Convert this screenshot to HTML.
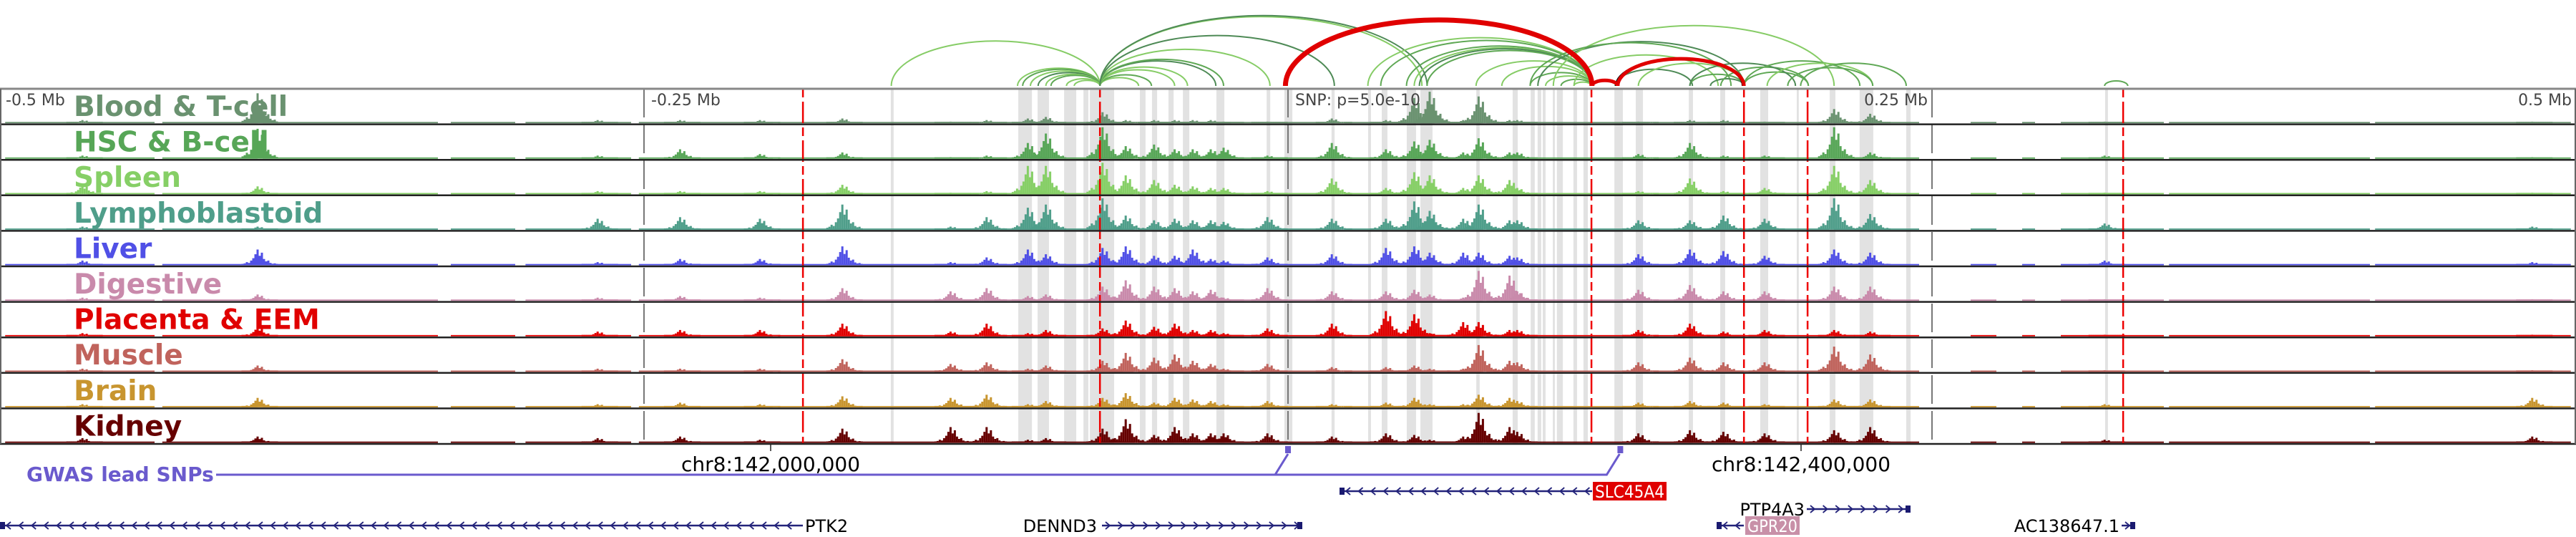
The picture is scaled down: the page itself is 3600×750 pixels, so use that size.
<!DOCTYPE html>
<html><head><meta charset="utf-8"><style>
html,body{margin:0;padding:0;background:#fff;}
svg{display:block;font-family:"DejaVu Sans","Liberation Sans",sans-serif;}
</style></head><body>
<svg id="fig" width="3600" height="750" viewBox="0 0 3600 750" xmlns="http://www.w3.org/2000/svg">
<g id="bands"></g>
<g id="arcs"></g>
<g id="signals"></g>
<g id="vlines"></g>
<g id="frame"></g>
<g id="labels"></g>
<g id="bottom"></g>
</svg>
<script>
// ---- data (genomic offsets in kb relative to lead SNP) ----
const trackNames = ['Blood & T-cell','HSC & B-cell','Spleen','Lymphoblastoid','Liver','Digestive','Placenta & EEM','Muscle','Brain','Kidney'];
const trackColors = ['#6a9270','#57a657','#86cf66','#4f9e8a','#5050e6','#c98aab','#e00000','#c0635c','#c8952f','#660000'];
const peakKb = [-468,-400,-268,-236,-205,-173,-131,-117,-101,-94,-72,-63,-52,-44,-37,-30,-25,-8,17,38,49,55,68,74,86,89,136,156,169,185,212,226,317,483];
const bloodH = [.1,.95,.1,.1,.1,.15,.05,.1,.15,.2,.35,.1,.1,.1,.1,.1,.05,.05,.15,.1,.8,1.0,.1,.85,.1,.1,.05,.1,.1,.05,.45,.3,.05,.05];
const hscH = [.1,.95,.1,.3,.15,.2,.05,.1,.5,.8,1.0,.4,.45,.3,.3,.3,.35,.1,.5,.3,.55,.6,.2,.65,.2,.2,.15,.5,.1,.1,1.0,.2,.1,.05];
const spleenH = [.3,.25,.1,.1,.1,.3,.05,.1,.9,.9,1.0,.6,.45,.3,.25,.2,.2,.1,.5,.2,.7,.6,.2,.6,.45,.2,.1,.5,.1,.2,.9,.45,.05,.05];
const lymphoH = [.1,.1,.35,.4,.35,.8,.1,.4,.7,.8,1.0,.45,.3,.35,.3,.3,.25,.4,.35,.35,.9,.6,.35,.8,.3,.3,.3,.3,.45,.35,1.0,.5,.2,.1];
const liverH = [.15,.5,.1,.2,.2,.6,.1,.25,.5,.35,.55,.6,.3,.3,.5,.2,.15,.25,.35,.55,.6,.4,.4,.4,.3,.25,.35,.5,.45,.3,.5,.4,.15,.1];
const digestiveH = [.1,.2,.1,.15,.1,.4,.3,.4,.15,.2,.45,.65,.45,.4,.3,.35,.1,.4,.3,.3,.35,.2,.1,.95,.8,.3,.35,.5,.3,.3,.45,.45,.05,.05];
const placentaH = [.1,.3,.15,.2,.2,.4,.15,.4,.1,.2,.25,.5,.3,.4,.2,.2,.1,.25,.4,.8,.7,.1,.45,.45,.2,.2,.2,.4,.15,.2,.2,.15,.05,.05];
const muscleH = [.1,.2,.1,.1,.1,.4,.25,.3,.1,.2,.35,.6,.45,.55,.35,.25,.1,.25,.15,.15,.2,.1,.1,.85,.35,.3,.3,.45,.3,.3,.8,.55,.05,.05];
const brainH = [.1,.3,.1,.15,.1,.35,.3,.4,.1,.2,.3,.45,.15,.3,.25,.2,.1,.2,.1,.15,.3,.1,.1,.4,.3,.2,.15,.2,.15,.1,.25,.25,.1,.3];
const kidneyH = [.15,.2,.15,.2,.1,.45,.5,.5,.1,.15,.45,.75,.25,.5,.3,.3,.3,.3,.2,.3,.25,.1,.2,.95,.5,.35,.3,.4,.35,.3,.4,.5,.1,.2];
const coverageKb = [[-498,-470],[-466,-440],[-437,-400],[-398,-330],[-325,-300],[-296,-255],[-252,-200],[-198,-120],[-118,-60],[-58,20],[22,75],[77,140],[142,210],[212,245],[265,275],[285,290],[300,340],[342,420],[422,498]];
const bandsKb = [[-154.2,-153.1],[-104.7,-99.4],[-97.2,-92.8],[-86.9,-82.2],[-79.4,-77.5],[-76.9,-67.5],[-57.5,-55.3],[-52.8,-50.8],[-46.4,-44.4],[-40.8,-38.3],[-27.8,-24.7],[-8.3,-6.9],[-1.4,1.7],[16.9,18.1],[31.1,32.2],[36.4,38.6],[46.1,49.7],[51.4,56.1],[73.1,74.4],[87.2,89.2],[94.2,95.8],[96.9,98.3],[98.9,100],[102.8,103.6],[104.4,106.7],[110.8,112.2],[114.7,116.4],[126.7,130],[135,137.8],[155.6,157.2],[167.8,169.7],[183.3,186.4],[197.5,198.3],[210.3,212.5],[221.9,227.2],[240,241.7],[317.2,318.3]];
const redLinesKb = [-188.3,-73,117.8,177,201.7,324.2];
const axisKb = [-250,0,250];
const greenArcStart = [-154,-105,-103,-100,-97,-94,-92,-86,-83,-73,-73,-73,-73,-73,-73,-73,-73,-73,-73,31,36,46,49,51,54,73,83,94,100,106,111,97,103,94,127,136,111,156,164,168,177,156,177,186,194,199,317];
const greenArcEnd   = [-73,-73,-73,-73,-73,-73,-73,-73,-73,-58,-53,-44,-39,-28,-25,-7,18,52,54,118,118,118,118,118,118,118,118,118,118,118,118,177,212,172,157,177,167,177,177,202,202,197,222,227,227,240,326];
const greenArcShade = [0,0,1,0,2,0,1,0,0,0,1,0,0,2,1,0,2,0,2,0,1,1,0,2,1,0,0,1,0,1,0,2,0,1,2,0,0,1,2,1,1,2,1,0,1,1,1];
const redArcStart = [-1,118,128];
const redArcEnd = [118,128,177];
const redArcWidth = [7,5,5];
const tickLabels = ['-0.5 Mb','-0.25 Mb','SNP: p=5.0e-10','0.25 Mb','0.5 Mb'];
const snpKb = [0,129];

const trackHeights = [bloodH,hscH,spleenH,lymphoH,liverH,digestiveH,placentaH,muscleH,brainH,kidneyH];
const NS='http://www.w3.org/2000/svg';
const X = kb => 1800 + kb*3.6;
const TOP=124, TH=49.6;
function mk(tag, attrs, parent){const e=document.createElementNS(NS,tag);for(const k in attrs)e.setAttribute(k,attrs[k]);parent.appendChild(e);return e;}

// bands
const gB=document.getElementById('bands');
bandsKb.forEach(b=>{
  const r=mk('rect',{x:X(b[0]),y:TOP,width:Math.max(2,X(b[1])-X(b[0])),height:TH*10,fill:'#e2e2e2'},gB);
  
  
});

// arcs
const gA=document.getElementById('arcs');
const shades=['#86cc66','#5fa855','#4e8a56'];
function arc(a,b,stroke,w,name){
  const x1=X(a),x2=X(b),rx=(x2-x1)/2,ry=0.43*rx;
  const p=mk('path',{d:`M${x1},120 A${rx},${ry} 0 0 1 ${x2},120`,fill:'none',stroke:stroke,'stroke-width':w},gA);
  
  
}
greenArcStart.forEach((s,i)=>arc(s,greenArcEnd[i],shades[greenArcShade[i]],2,'interaction-arc'));
arc(redArcStart[2]-0.8,redArcEnd[2]-0.6,'#111',2,'interaction-arc-black');
redArcStart.forEach((s,i)=>arc(s,redArcEnd[i],'#e00000',redArcWidth[i],'interaction-arc-red'));

// signals
const gS=document.getElementById('signals');
const profile=[.08,.12,.2,.15,.3,.45,.7,1,.6,.8,.4,.25,.3,.15,.1,.12,.06];
trackHeights.forEach((hs,t)=>{
  const g=mk('g',{fill:trackColors[t]},gS);
  
  
  const base=TOP+(t+1)*TH-1.5, H=44;
  coverageKb.forEach(c=>{
    const r=mk('rect',{x:X(c[0]),y:base-1.8,width:X(c[1])-X(c[0]),height:1.8},g);
    
    
  });
  peakKb.forEach((kb,i)=>{
    const cx=X(kb);
    profile.forEach((p,j)=>{
      const h=Math.max(2,hs[i]*H*p);
      const r=mk('rect',{x:cx+(j-7)*3-1.5,y:base-h,width:3,height:h},g);
      
      
    });
  });
});

// vertical lines
const gV=document.getElementById('vlines');
redLinesKb.forEach(kb=>{
  const l=mk('line',{x1:X(kb),x2:X(kb),y1:TOP,y2:TOP+TH*10,stroke:'#ee0000','stroke-width':2.5,'stroke-dasharray':'12,6,30,6'},gV);
  
  
});
axisKb.forEach(kb=>{
  const l=mk('line',{x1:X(kb),x2:X(kb),y1:TOP,y2:TOP+TH*10,stroke:'#777','stroke-width':2,'stroke-dasharray':'40,10'},gV);
  
  
});

// frames
const gF=document.getElementById('frame');
mk('line',{x1:0,x2:3600,y1:TOP,y2:TOP,stroke:'#888','stroke-width':3},gF);
for(let t=1;t<=10;t++){
  const l=mk('line',{x1:0,x2:3600,y1:TOP+t*TH,y2:TOP+t*TH,stroke:'#222','stroke-width':2.5},gF);
  
  
}
mk('line',{x1:1,x2:1,y1:TOP,y2:TOP+TH*10,stroke:'#666','stroke-width':2},gF);
mk('line',{x1:3599,x2:3599,y1:TOP,y2:TOP+TH*10,stroke:'#666','stroke-width':2},gF);

// labels
const gL=document.getElementById('labels');
trackNames.forEach((n,t)=>{
  const tx=mk('text',{x:103,y:TOP+t*TH+38,fill:trackColors[t],'font-size':39,'font-weight':'bold'},gL);
  tx.textContent=n;
  
  
});
const tickPos=[[8,'start'],[910,'start'],[1810,'start'],[2694,'end'],[3594,'end']];
tickLabels.forEach((s,i)=>{
  const tx=mk('text',{x:tickPos[i][0],y:147,fill:'#444','font-size':22,'text-anchor':tickPos[i][1]},gL);
  tx.textContent=s;
  
  
});

// bottom annotations
const gBt=document.getElementById('bottom');
[[1077,'chr8:142,000,000'],[2517,'chr8:142,400,000']].forEach(c=>{
  mk('line',{x1:c[0],x2:c[0],y1:620,y2:630,stroke:'#222','stroke-width':1.5},gBt);
  const tx=mk('text',{x:c[0],y:658,'text-anchor':'middle','font-size':28,fill:'#000'},gBt);
  tx.textContent=c[1];
  
  
});
const gw=mk('text',{x:37,y:672,'font-size':28,'font-weight':'bold',fill:'#6a5acd'},gBt);
gw.textContent='GWAS lead SNPs';


const sx1=X(snpKb[0]),sx2=X(snpKb[1])-1;
mk('polyline',{points:`302,663 ${sx1-18},663 ${sx1},634 `,fill:'none',stroke:'#6a5acd','stroke-width':3},gBt);
mk('polyline',{points:`${sx1-18},663 ${sx2-18},663 ${sx2},634`,fill:'none',stroke:'#6a5acd','stroke-width':3},gBt);
snpKb.forEach(k=>{
  const r=mk('rect',{x:X(k)-4,y:623,width:8,height:10,fill:'#6a5acd'},gBt);
  
  
});

// genes
function gene(x1,x2,y,dir,name,lbl){
  const g=mk('g',{},gBt);
  
  
  mk('line',{x1:x1,x2:x2,y1:y,y2:y,stroke:'#23237a','stroke-width':2.5},g);
  let d='';
  for(let x=x1+10;x<x2-6;x+=17.6){
    d+= dir<0 ? `M${x+5},${y-5} L${x-1},${y} L${x+5},${y+5} ` : `M${x-5},${y-5} L${x+1},${y} L${x-5},${y+5} `;
  }
  mk('path',{d:d,fill:'none',stroke:'#23237a','stroke-width':1.8},g);
  mk('rect',{x:(dir<0?x1:x2-7),y:y-5,width:7,height:10,fill:'#1a1a70'},g);
  if(lbl){
    const attrs={x:lbl.x+(lbl.bg?3:0),y:y+9,'font-size':24,fill:lbl.bg?'#fff':'#000','text-anchor':lbl.anchor||'start'};
    if(lbl.bg){
      mk('rect',{x:lbl.x,y:y-13,width:lbl.w,height:26,fill:lbl.bg},g);
      attrs.textLength=lbl.w-6; attrs.lengthAdjust='spacingAndGlyphs';
    }
    const tx=mk('text',attrs,g);
    tx.textContent=name;
  }
}
gene(1872,2225,686,-1,'SLC45A4',{x:2226,w:103,bg:'#e00000'});
gene(2525,2670,711,1,'PTP4A3',{x:2522,anchor:'end'});
gene(0,1122,734,-1,'PTK2',{x:1125});
gene(1540,1820,734,1,'DENND3',{x:1533,anchor:'end'});
gene(2399,2437,734,-1,'GPR20',{x:2439,w:76,bg:'#c890a8'});
gene(2965,2984,734,1,'AC138647.1',{x:2962,anchor:'end'});
</script>
</body></html>
